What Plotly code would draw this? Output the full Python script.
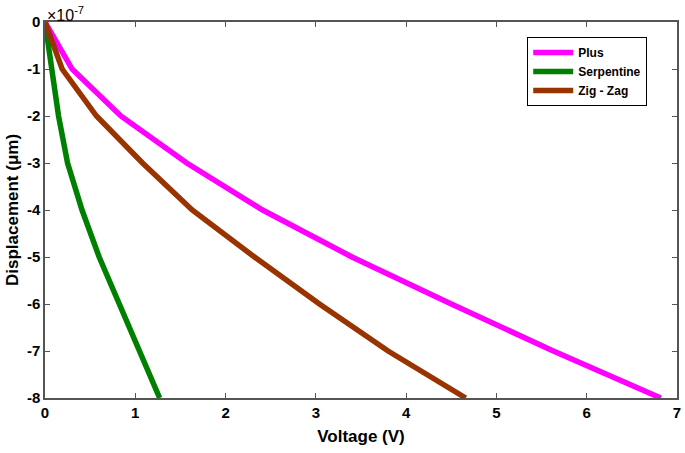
import plotly.graph_objects as go

# Displacement values in units of 1e-7 (as shown on the axis)
disp = [0, -1, -2, -3, -4, -5, -6, -7, -8]
volt_plus = [0, 0.30, 0.84, 1.57, 2.41, 3.40, 4.50, 5.63, 6.82]
volt_serp = [0, 0.07, 0.15, 0.25, 0.41, 0.60, 0.82, 1.04, 1.27]
volt_zig = [0, 0.19, 0.57, 1.08, 1.63, 2.32, 3.04, 3.80, 4.66]

series_names = ["Plus", "Serpentine", "Zig - Zag"]
series_colors = ["#FF00FF", "#008000", "#993300"]
x_ticks = [0, 1, 2, 3, 4, 5, 6, 7]
y_ticks = [0, -1, -2, -3, -4, -5, -6, -7, -8]

fig = go.Figure()
for name, xs, col in zip(series_names, [volt_plus, volt_serp, volt_zig], series_colors):
    fig.add_trace(go.Scatter(x=xs, y=disp, mode="lines", name=name,
                             line=dict(color=col, width=5.5)))

axis_common = dict(showgrid=False, zeroline=False, showline=True, mirror="ticks",
                   linecolor="#555555", linewidth=1.5, ticks="inside", ticklen=5,
                   tickcolor="#555555", automargin=False,
                   tickfont=dict(family="Liberation Sans", size=15, color="black", weight="bold"))

fig.update_xaxes(range=[0, 7], tickvals=x_ticks, ticktext=[str(v) for v in x_ticks],
                 title=dict(text="Voltage (V)", standoff=10,
                            font=dict(family="Liberation Sans", size=17, color="black", weight="bold")),
                 **axis_common)
fig.update_yaxes(range=[-8, 0], tickvals=y_ticks, ticktext=[str(v) for v in y_ticks],
                 title=dict(text="Displacement (\u03bcm)", standoff=4,
                            font=dict(family="Liberation Sans", size=17, color="black", weight="bold")),
                 **axis_common)

fig.add_annotation(text="\u00d710<sup>-7</sup>", xref="paper", yref="paper", x=0, y=1,
                   xanchor="left", yanchor="bottom", showarrow=False, yshift=-4,
                   font=dict(family="Liberation Sans", size=16, color="black"))

fig.update_layout(
    width=685, height=453,
    margin=dict(l=45, r=8, t=22, b=55),
    paper_bgcolor="white", plot_bgcolor="white",
    legend=dict(x=0.763, y=0.96, xanchor="left", yanchor="top",
                bgcolor="white", bordercolor="black", borderwidth=1,
                font=dict(family="Liberation Sans", size=12, color="black", weight="bold"),
                tracegroupgap=0, itemwidth=40),
    showlegend=True,
)

fig.write_html("out.html", config={"displayModeBar": False},
               post_script="document.body.style.margin='0px';")
